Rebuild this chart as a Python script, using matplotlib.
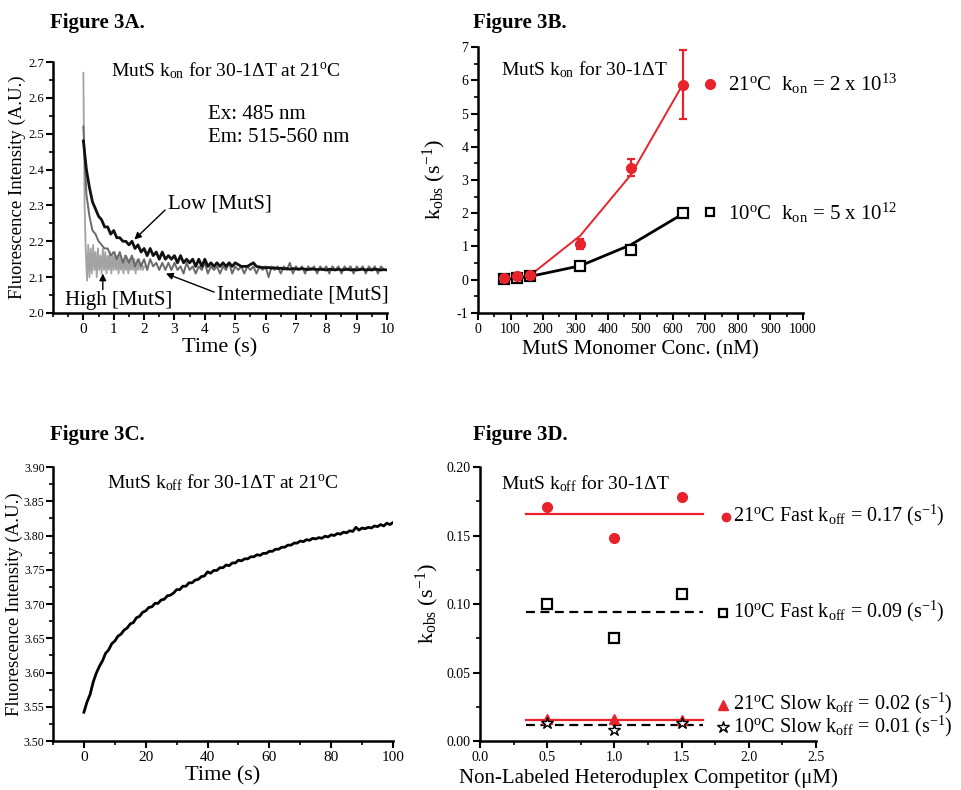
import numpy as np
import matplotlib
matplotlib.use('Agg')
import matplotlib.pyplot as plt
from matplotlib.ticker import MultipleLocator, FormatStrFormatter

plt.rcParams['font.family'] = ['Liberation Serif', 'DejaVu Serif']
plt.rcParams['mathtext.fontset'] = 'custom'
plt.rcParams['mathtext.rm'] = 'Liberation Serif'
plt.rcParams['mathtext.it'] = 'Liberation Serif:italic'
plt.rcParams['mathtext.bf'] = 'Liberation Serif:bold'
plt.rcParams['axes.unicode_minus'] = False

RED = '#e8232b'

# ---------- Figure 3A: kon traces ----------
t_high = np.linspace(0, 2, 51)
f_high = [2.67, 2.30, 2.17, 2.09, 2.19, 2.10, 2.18, 2.11, 2.19, 2.12,
          2.17, 2.10, 2.18, 2.12, 2.16, 2.11, 2.18, 2.12, 2.17, 2.11,
          2.16, 2.12, 2.17, 2.11, 2.16, 2.12, 2.17, 2.12, 2.16, 2.11,
          2.16, 2.12, 2.15, 2.11, 2.16, 2.12, 2.15, 2.11, 2.15, 2.12,
          2.15, 2.12, 2.15, 2.11, 2.14, 2.12, 2.15, 2.12, 2.14, 2.12, 2.13]

t_mid = np.linspace(0, 10, 101)
f_mid = [2.52, 2.33, 2.27, 2.23, 2.22, 2.20, 2.19, 2.18, 2.18, 2.16,
         2.17, 2.15, 2.17, 2.14, 2.16, 2.14, 2.16, 2.13, 2.15, 2.13,
         2.15, 2.12, 2.15, 2.13, 2.14, 2.12, 2.14, 2.12, 2.14, 2.12,
         2.14, 2.12, 2.13, 2.11, 2.14, 2.12, 2.13, 2.11, 2.13, 2.12,
         2.14, 2.11, 2.13, 2.12, 2.13, 2.11, 2.13, 2.12, 2.14, 2.11,
         2.13, 2.12, 2.13, 2.11, 2.13, 2.12, 2.13, 2.11, 2.13, 2.12,
         2.13, 2.10, 2.13, 2.12, 2.13, 2.11, 2.13, 2.12, 2.14, 2.11,
         2.13, 2.12, 2.13, 2.11, 2.13, 2.12, 2.13, 2.11, 2.13, 2.12,
         2.13, 2.11, 2.13, 2.12, 2.13, 2.11, 2.13, 2.12, 2.13, 2.11,
         2.13, 2.12, 2.13, 2.11, 2.13, 2.12, 2.13, 2.11, 2.13, 2.12, 2.12]

t_low = np.linspace(0, 10, 101)
f_low = [2.48, 2.40, 2.35, 2.31, 2.29, 2.27, 2.26, 2.24, 2.24, 2.22,
         2.23, 2.21, 2.21, 2.20, 2.20, 2.19, 2.20, 2.18, 2.19, 2.17,
         2.18, 2.16, 2.18, 2.16, 2.17, 2.15, 2.17, 2.15, 2.16, 2.15,
         2.16, 2.14, 2.16, 2.14, 2.15, 2.14, 2.15, 2.13, 2.15, 2.13,
         2.15, 2.13, 2.14, 2.13, 2.14, 2.13, 2.14, 2.13, 2.14, 2.13,
         2.14, 2.135, 2.13, 2.13, 2.13, 2.135, 2.14, 2.13, 2.128, 2.127,
         2.126, 2.127, 2.125, 2.126, 2.124, 2.125, 2.123, 2.124, 2.122, 2.124,
         2.123, 2.122, 2.124, 2.122, 2.121, 2.123, 2.122, 2.121, 2.122, 2.121,
         2.120, 2.122, 2.121, 2.120, 2.122, 2.120, 2.121, 2.122, 2.120, 2.121,
         2.120, 2.121, 2.122, 2.120, 2.121, 2.120, 2.122, 2.121, 2.120, 2.121, 2.120]

# ---------- Figure 3B: kobs vs MutS ----------
conc = [80, 120, 160, 315, 470, 630]
kobs_21 = [0.05, 0.12, 0.15, 1.07, 3.37, 5.87]
kobs_21_err = [0.08, 0.08, 0.08, 0.15, 0.25, 1.05]
fit_21 = [0.0, 0.06, 0.13, 1.33, 3.15, 5.87]
kobs_10 = [0.02, 0.06, 0.10, 0.41, 0.90, 2.00]
fit_10 = [0.0, 0.05, 0.10, 0.42, 1.05, 1.98]

# ---------- Figure 3C: koff trace ----------
t_off = np.linspace(0, 100, 101)
f_off = [3.542, 3.557, 3.568, 3.586, 3.599, 3.609, 3.617, 3.628, 3.633, 3.642,
         3.646, 3.653, 3.656, 3.662, 3.665, 3.671, 3.673, 3.680, 3.682, 3.688,
         3.690, 3.695, 3.696, 3.701, 3.701, 3.706, 3.707, 3.712, 3.713, 3.716,
         3.721, 3.721, 3.726, 3.726, 3.731, 3.731, 3.735, 3.736, 3.740, 3.741,
         3.747, 3.745, 3.749, 3.749, 3.753, 3.753, 3.757, 3.756, 3.760, 3.760,
         3.764, 3.763, 3.766, 3.766, 3.769, 3.769, 3.772, 3.771, 3.774, 3.774,
         3.777, 3.777, 3.780, 3.780, 3.783, 3.783, 3.786, 3.786, 3.789, 3.789,
         3.792, 3.791, 3.794, 3.793, 3.796, 3.795, 3.797, 3.796, 3.799, 3.798,
         3.801, 3.800, 3.803, 3.802, 3.805, 3.804, 3.807, 3.806, 3.812, 3.808,
         3.811, 3.810, 3.812, 3.811, 3.814, 3.813, 3.816, 3.814, 3.818, 3.816, 3.819]

# ---------- Figure 3D: koff vs competitor ----------
comp = [0.5, 1.0, 1.5]
fast_21 = [0.171, 0.148, 0.178]
fast_10 = [0.100, 0.075, 0.107]
slow_21 = [0.016, 0.016, 0.015]
slow_10 = [0.013, 0.008, 0.013]
fit_span = [0.34, 1.66]
fit_fast_21 = 0.166
fit_fast_10 = 0.094
fit_slow_21 = 0.015
fit_slow_10 = 0.012


def style_axes(ax, tick_size=10):
    for s in ['top', 'right']:
        ax.spines[s].set_visible(False)
    for s in ['left', 'bottom']:
        ax.spines[s].set_linewidth(1.8)
    ax.tick_params(which='major', direction='out', length=5, width=1.5,
                   labelsize=tick_size, pad=2)
    ax.tick_params(which='minor', direction='out', length=3, width=1.2)


fig = plt.figure(figsize=(9.62, 7.90), dpi=100)

# ----- A -----
axA = fig.add_axes([0.0551, 0.6038, 0.3472, 0.3177])
axA.plot(t_high, f_high, color='#a3a3a3', lw=1.3)
axA.plot(t_mid, f_mid, color='#6a6a6a', lw=1.4)
axA.plot(t_low, f_low, color='#111111', lw=2.0)
axA.set_xlim(-1, 10)
axA.set_ylim(2.0, 2.7)
axA.set_xticks(range(0, 11))
axA.xaxis.set_minor_locator(MultipleLocator(0.5))
axA.yaxis.set_major_locator(MultipleLocator(0.1))
axA.yaxis.set_minor_locator(MultipleLocator(0.05))
style_axes(axA)
axA.tick_params(axis='x', labelsize=11)
axA.tick_params(axis='y', labelsize=9, pad=1)
axA.set_xlabel('Time (s)', fontsize=16, labelpad=2)
axA.set_ylabel('Fluorescence Intensity (A.U.)', fontsize=13.5, labelpad=2)
axA.text(0.9, 2.675, r'MutS k$_{\mathrm{on}}$ for 30-1ΔT at 21$^{\mathrm{o}}$C',
         fontsize=14, va='center')
axA.text(4.1, 2.555, 'Ex: 485 nm', fontsize=15, va='center')
axA.text(4.1, 2.49, 'Em: 515-560 nm', fontsize=15, va='center')
axA.annotate('Low [MutS]', xy=(1.68, 2.205), xytext=(2.78, 2.305),
             fontsize=15, va='center',
             arrowprops=dict(arrowstyle='-|>', color='black', lw=1, mutation_scale=10,
                             shrinkA=0, shrinkB=0, relpos=(0, 0.3)))
axA.text(-0.6, 2.036, 'High [MutS]', fontsize=15, va='center')
axA.annotate('', xy=(0.64, 2.11), xytext=(0.64, 2.065),
             arrowprops=dict(arrowstyle='-|>', color='black', lw=1, mutation_scale=10,
                             shrinkA=0, shrinkB=0))
axA.annotate('Intermediate [MutS]', xy=(2.72, 2.11), xytext=(4.4, 2.05),
             fontsize=15, va='center',
             arrowprops=dict(arrowstyle='-|>', color='black', lw=1, mutation_scale=10,
                             shrinkA=0, shrinkB=0, relpos=(0, 0.6)))

# ----- B -----
axB = fig.add_axes([0.4969, 0.6038, 0.3378, 0.3367])
axB.plot(conc, fit_21, color=RED, lw=1.4)
axB.plot(conc, fit_10, color='black', lw=2)
axB.errorbar(conc, kobs_21, yerr=kobs_21_err, fmt='o', color=RED, ms=7,
             capsize=3, elinewidth=1.6, capthick=1.6)
axB.plot(conc, kobs_10, 's', mfc='white', mec='black', mew=1.6, ms=7)
axB.set_xlim(0, 1000)
axB.set_ylim(-1, 7)
axB.xaxis.set_major_locator(MultipleLocator(100))
axB.xaxis.set_minor_locator(MultipleLocator(50))
axB.yaxis.set_major_locator(MultipleLocator(1))
axB.yaxis.set_minor_locator(MultipleLocator(0.5))
style_axes(axB)
axB.set_xlabel('MutS Monomer Conc. (nM)', fontsize=15, labelpad=3)
axB.set_ylabel(r'k$_{\mathrm{obs}}$ (s$^{\mathrm{-1}}$)', fontsize=16, labelpad=6)
axB.text(72, 6.33, r'MutS k$_{\mathrm{on}}$ for 30-1ΔT', fontsize=14, va='center')
axB.plot([714], [5.88], 'o', color=RED, ms=7, clip_on=False)
axB.text(768, 5.88, r'21$^{\mathrm{o}}$C  k$_{\mathrm{on}}$ = 2 x 10$^{\mathrm{13}}$',
         fontsize=15, va='center')
axB.plot([714], [2.03], 's', mfc='white', mec='black', mew=1.6, ms=6, clip_on=False)
axB.text(768, 2.0, r'10$^{\mathrm{o}}$C  k$_{\mathrm{on}}$ = 5 x 10$^{\mathrm{12}}$',
         fontsize=15, va='center')

# ----- C -----
axC = fig.add_axes([0.0551, 0.062, 0.3534, 0.3468])
axC.plot(t_off, f_off, color='black', lw=2.0)
axC.set_xlim(-10, 100)
axC.set_ylim(3.5, 3.9)
axC.set_xticks(range(0, 101, 20))
axC.xaxis.set_minor_locator(MultipleLocator(10))
axC.yaxis.set_major_locator(MultipleLocator(0.05))
axC.yaxis.set_minor_locator(MultipleLocator(0.025))
style_axes(axC)
axC.tick_params(axis='x', labelsize=11)
axC.tick_params(axis='y', labelsize=8.5, pad=1)
axC.yaxis.set_major_formatter(FormatStrFormatter('%.2f'))
axC.set_xlabel('Time (s)', fontsize=16, labelpad=2)
axC.set_ylabel('Fluorescence Intensity (A.U.)', fontsize=13.5, labelpad=1)
axC.text(7.5, 3.877, r'MutS k$_{\mathrm{off}}$ for 30-1ΔT at 21$^{\mathrm{o}}$C',
         fontsize=14, va='center')

# ----- D -----
axD = fig.add_axes([0.499, 0.062, 0.3493, 0.3468])
axD.plot(fit_span, [fit_fast_21] * 2, color=RED, lw=1.6)
axD.plot(fit_span, [fit_fast_10] * 2, color='black', lw=1.6, ls=(0, (4, 2.5)))
axD.plot(fit_span, [fit_slow_21] * 2, color=RED, lw=1.6)
axD.plot(fit_span, [fit_slow_10] * 2, color='black', lw=1.6, ls=(0, (4, 2.5)))
axD.plot(comp, fast_21, 'o', color=RED, ms=7)
axD.plot(comp, fast_10, 's', mfc='white', mec='black', mew=1.6, ms=7)
axD.plot(comp, slow_21, '^', color=RED, ms=7)
axD.plot(comp, slow_10, '*', mfc='white', mec='black', mew=1.0, ms=9)
axD.set_xlim(0, 2.5)
axD.set_ylim(0, 0.20)
axD.xaxis.set_major_locator(MultipleLocator(0.5))
axD.xaxis.set_minor_locator(MultipleLocator(0.25))
axD.yaxis.set_major_locator(MultipleLocator(0.05))
axD.yaxis.set_minor_locator(MultipleLocator(0.025))
style_axes(axD)
axD.xaxis.set_major_formatter(FormatStrFormatter('%.1f'))
axD.yaxis.set_major_formatter(FormatStrFormatter('%.2f'))
axD.set_xlabel('Non-Labeled Heteroduplex Competitor (μM)', fontsize=15, labelpad=3)
axD.set_ylabel(r'k$_{\mathrm{obs}}$ (s$^{\mathrm{-1}}$)', fontsize=16, labelpad=4)
axD.text(0.155, 0.188, r'MutS k$_{\mathrm{off}}$ for 30-1ΔT', fontsize=14, va='center')
axD.plot([1.83], [0.1635], 'o', color=RED, ms=6, clip_on=False)
axD.text(1.88, 0.1645, r'21$^{\mathrm{o}}$C Fast k$_{\mathrm{off}}$ = 0.17 (s$^{\mathrm{-1}}$)',
         fontsize=14.5, va='center')
axD.plot([1.81], [0.0934], 's', mfc='white', mec='black', mew=1.6, ms=6, clip_on=False)
axD.text(1.88, 0.0945, r'10$^{\mathrm{o}}$C Fast k$_{\mathrm{off}}$ = 0.09 (s$^{\mathrm{-1}}$)',
         fontsize=14.5, va='center')
axD.plot([1.81], [0.026], '^', color=RED, ms=7, clip_on=False)
axD.text(1.88, 0.0275, r'21$^{\mathrm{o}}$C Slow k$_{\mathrm{off}}$ = 0.02 (s$^{\mathrm{-1}}$)',
         fontsize=14.5, va='center')
axD.plot([1.81], [0.010], '*', mfc='white', mec='black', mew=1.0, ms=9, clip_on=False)
axD.text(1.88, 0.0105, r'10$^{\mathrm{o}}$C Slow k$_{\mathrm{off}}$ = 0.01 (s$^{\mathrm{-1}}$)',
         fontsize=14.5, va='center')

# panel titles
for x, y, s in [(50, 23, 'Figure 3A.'), (473, 23, 'Figure 3B.'),
                (50, 435, 'Figure 3C.'), (473, 435, 'Figure 3D.')]:
    fig.text(x / 962, 1 - y / 790, s, fontsize=15, fontweight='bold', va='center')

fig.savefig('out.png', dpi=100)
